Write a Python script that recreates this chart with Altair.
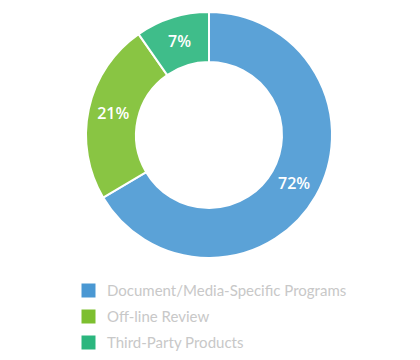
import altair as alt
import pandas as pd

categories = ["Document/Media-Specific Programs", "Off-line Review", "Third-Party Products"]
shares = [66.5, 23.8, 9.7]
labels = ["72%", "21%", "7%"]
order = [1, 2, 3]
slice_colors = ["#4A98D3", "#7DBF2F", "#2BB67E"]

df = pd.DataFrame({"category": categories, "share": shares, "label": labels, "order": order})

color = alt.Color(
    "category:N",
    sort=categories,
    scale=alt.Scale(domain=categories, range=slice_colors),
    legend=alt.Legend(
        title=None,
        orient="none",
        legendX=73,
        legendY=274,
        symbolType="square",
        symbolSize=196,
        symbolOpacity=1,
        symbolStrokeWidth=0,
        labelFont="Lato",
        labelFontSize=15,
        labelColor="#C8C8C8",
        labelOffset=11,
        rowPadding=10,
        labelLimit=400,
    ),
)

base = alt.Chart(df).encode(
    theta=alt.Theta("share:Q", stack=True),
    order=alt.Order("order:Q"),
)

arcs = base.mark_arc(innerRadius=73, outerRadius=123, stroke="white", strokeWidth=2, opacity=0.9).encode(
    color=color
)

text = base.mark_text(radius=98, font="Open Sans", fontSize=16, fontWeight=600, color="white").encode(
    text="label:N"
)

chart = (
    alt.layer(arcs, text)
    .properties(width=402, height=252, padding=0)
    .configure_view(stroke=None)
)

chart.save("out.html", embed_options={"renderer": "svg", "actions": False})
